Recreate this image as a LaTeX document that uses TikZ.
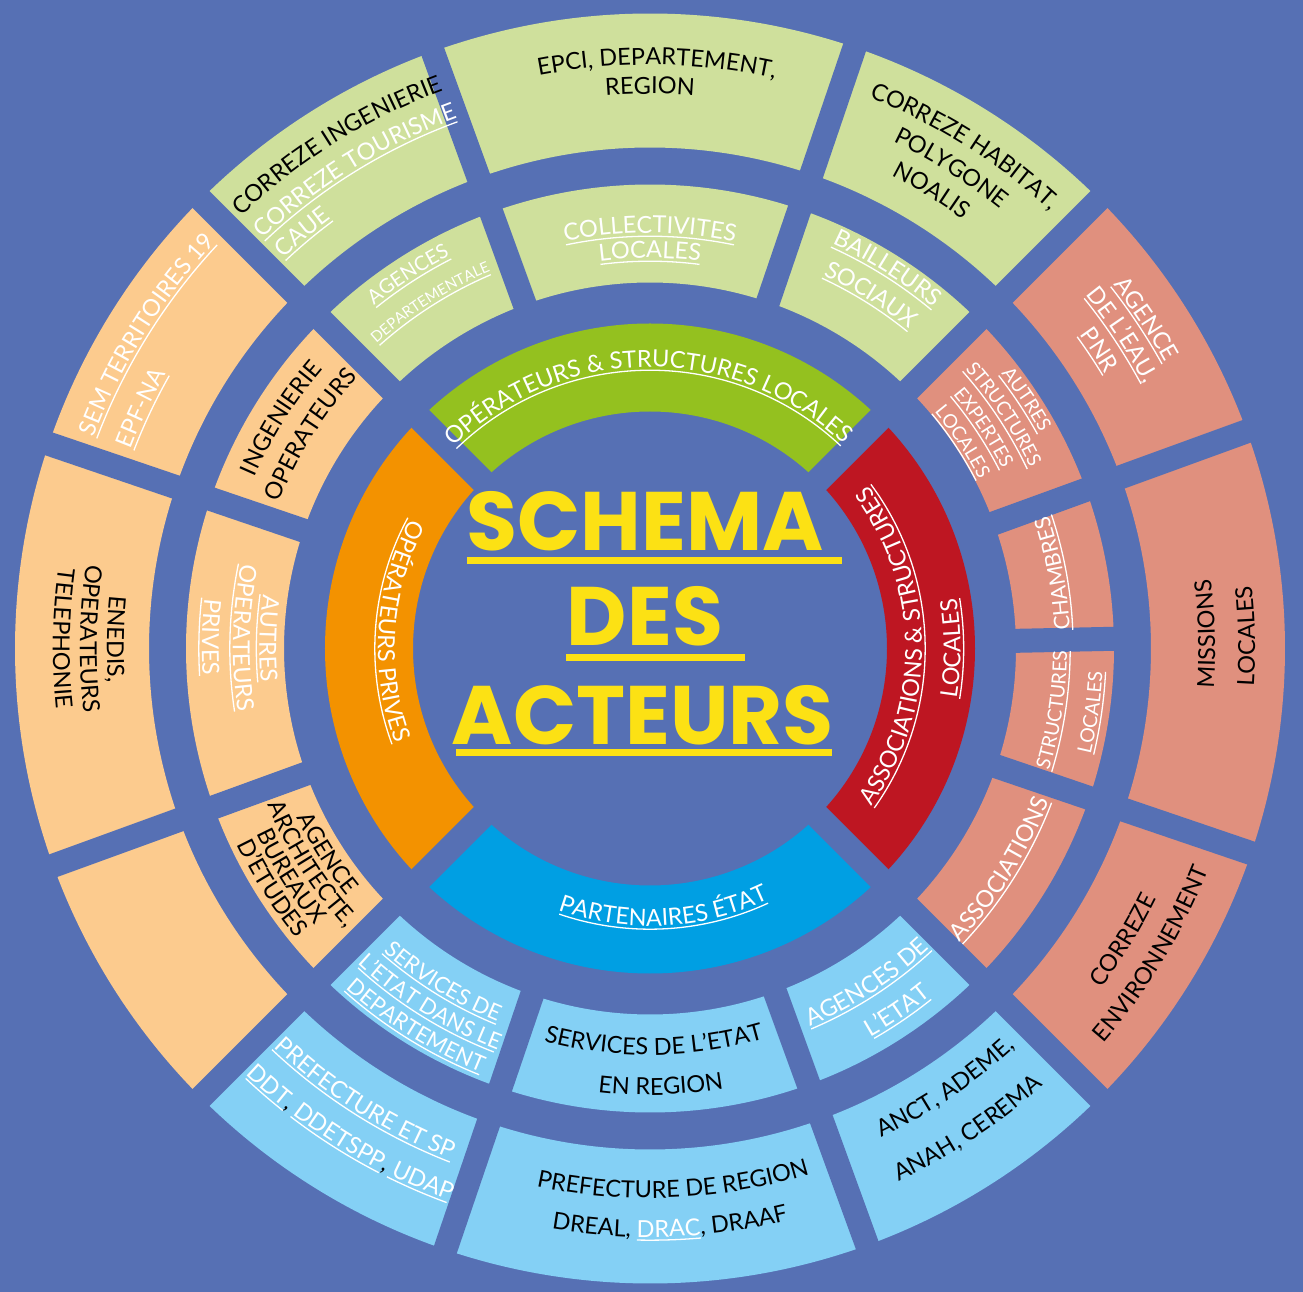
\documentclass[tikz,border=0pt]{standalone}
\usepackage{fontspec}
\usetikzlibrary{decorations.text}
\newfontfamily\labf{Lato}
\newfontfamily\titf{Poppins}
\definecolor{bgc}{HTML}{5670B4}
\definecolor{lgreen}{HTML}{CFE09C}
\definecolor{peach}{HTML}{FCCB8E}
\definecolor{salmon}{HTML}{E0907E}
\definecolor{lblue}{HTML}{84D0F5}
\definecolor{igreen}{HTML}{94C11F}
\definecolor{iorange}{HTML}{F39200}
\definecolor{ired}{HTML}{BE1622}
\definecolor{iblue}{HTML}{009FE3}
\definecolor{tyellow}{HTML}{FCE114}
\newcommand\Wa{\labf\fontsize{23.5}{23.5}\selectfont\color{white}}
\newcommand\Ba{\labf\fontsize{23.5}{23.5}\selectfont\color{black}}
\newcommand\Wb{\labf\fontsize{20}{20}\selectfont\color{white}}
\newcommand\Wc{\labf\fontsize{15}{15}\selectfont\color{white}}
\newcommand\Wd{\labf\fontsize{19}{19}\selectfont\color{white}}
\newcommand\We{\labf\fontsize{22}{22}\selectfont\color{white}}
\newcommand\Wf{\labf\fontsize{19.5}{19.5}\selectfont\color{white}}
\newcommand\Wg{\labf\fontsize{21.5}{21.5}\selectfont\color{white}}
\newdimen\Lw \newdimen\La \newdimen\Lb
\newsavebox\measbox
\newcommand\measure[2]{\pgfinterruptpicture\global\setbox\measbox=\hbox{#2}\endpgfinterruptpicture#1=\wd\measbox}
\def\Rpi{57.29578}
\newcommand\sect[5]{\fill[#1] (#2:#4) arc[start angle=#2,end angle=#3,radius=#4] -- (#3:#5) arc[start angle=#3,end angle=#2,radius=#5] -- cycle;}
\newcommand\gap[4]{\draw[bgc,line width=#4] (#1:#2-4) -- (#1:#3+4);}
\newcommand\ctext[5]{%
  \pgfmathsetmacro\Sa{#2+80*(#3)}%
  \pgfmathsetmacro\Ea{#2-80*(#3)}%
  \path[decorate,decoration={text along path,text align=center,text={|#4|#5}}] (\Sa:#1) arc[start angle=\Sa,end angle=\Ea,radius=#1];}
\newcommand\cul[5]{%
  \measure\Lw{#4#5}%
  \pgfmathsetmacro\Ha{0.5*\the\Lw/(#1)*\Rpi}%
  \pgfmathsetmacro\Ur{#1-3.2*(#3)}%
  \pgfmathsetmacro\Aa{#2-\Ha}\pgfmathsetmacro\Ab{#2+\Ha}%
  \draw[ulsty] (\Aa:\Ur) arc[start angle=\Aa,end angle=\Ab,radius=\Ur];}
\newcommand\clab[6]{\ctext{#1}{#2}{#3}{#4}{#5}\ifnum#6=1 \cul{#1}{#2}{#3}{#4}{#5}\fi}
\newcommand\ltext[5]{%
  \pgfmathsetmacro\Ea{#2-160*(#3)}%
  \path[decorate,decoration={text along path,text align=left,text={|#4|#5}}] (#2:#1) arc[start angle=#2,end angle=\Ea,radius=#1];}
\newcommand\lul[5]{%
  \measure\Lw{#4#5}%
  \pgfmathsetmacro\Ha{\the\Lw/(#1)*\Rpi}%
  \pgfmathsetmacro\Ur{#1-3.2*(#3)}%
  \pgfmathsetmacro\Ab{#2-(#3)*\Ha}%
  \draw[ulsty] (#2:\Ur) arc[start angle=#2,end angle=\Ab,radius=\Ur];}
\newcommand\pul[7]{%
  \measure\Lw{#4#5}\measure\La{#4#6}\measure\Lb{#4#6#7}%
  \pgfmathsetmacro\Ur{#1-3.2*(#3)}%
  \pgfmathsetmacro\Aa{#2-(#3)*(-0.5*\the\Lw+\the\La)/(#1)*\Rpi}%
  \pgfmathsetmacro\Ab{#2-(#3)*(-0.5*\the\Lw+\the\Lb)/(#1)*\Rpi}%
  \draw[ulsty] (\Aa:\Ur) arc[start angle=\Aa,end angle=\Ab,radius=\Ur];}
\tikzset{
  ulsty/.style={white,line width=1.3},
  titlesty/.style={font=\titf\bfseries\fontsize{83}{83}\selectfont,text=tyellow,inner sep=0pt,anchor=base},
  tline/.style={tyellow,line width=7}
}
\begin{document}
\begin{tikzpicture}[x=1pt,y=1pt]
\useasboundingbox (-650,-643.5) rectangle (653,648.5);
\fill[bgc] (-650,-643.5) rectangle (653,648.5);
% ---------- ring 1 ----------
\sect{igreen}{45}{135}{237}{325}
\sect{iorange}{135}{225}{237}{325}
\sect{iblue}{225}{315}{237}{325}
\sect{ired}{-45}{45}{237}{325}
\foreach \a in {45,135,225,315} {\gap{\a}{237}{325}{25}}
% ---------- ring 2 ----------
\sect{salmon}{-18.8}{1.2}{366}{464}
\sect{salmon}{1.2}{20}{366}{464}
\sect{salmon}{20}{45}{366}{464}
\sect{lgreen}{45}{71.2}{366}{464}
\sect{lgreen}{71.2}{110}{366}{464}
\sect{lgreen}{110}{135}{366}{464}
\sect{peach}{135}{161.2}{366}{464}
\sect{peach}{161.2}{200}{366}{464}
\sect{peach}{200}{225}{366}{464}
\sect{lblue}{225}{251.2}{366}{464}
\sect{lblue}{251.2}{290}{366}{464}
\sect{lblue}{290}{315}{366}{464}
\sect{salmon}{315}{341.2}{366}{464}
\foreach \a in {-18.8,1.2,20,45,71.2,110,135,161.2,200,225,251.2,290,315} {\gap{\a}{366}{464}{24}}
% ---------- ring 3 ----------
\sect{salmon}{-18.8}{20}{501}{635}
\sect{salmon}{20}{45}{501}{635}
\sect{lgreen}{45}{71.2}{501}{635}
\sect{lgreen}{71.2}{110}{501}{635}
\sect{lgreen}{110}{135}{501}{635}
\sect{peach}{135}{161.2}{501}{635}
\sect{peach}{161.2}{200}{501}{635}
\sect{peach}{200}{225}{501}{635}
\sect{lblue}{225}{251.2}{501}{635}
\sect{lblue}{251.2}{290}{501}{635}
\sect{lblue}{290}{315}{501}{635}
\sect{salmon}{315}{341.2}{501}{635}
\foreach \a in {-18.8,20,45,71.2,110,135,161.2,200,225,251.2,290,315} {\gap{\a}{501}{635}{24}}
% ---------- title ----------
\node[titlesty] (t1) at (-5,97.5) {SCHEMA};
\node[titlesty] (t2) at (-5,2.5) {DES};
\node[titlesty] (t3) at (-7,-96) {ACTEURS};
\draw[tline] (-183,88) -- (192,88);
\draw[tline] (-84,-8.9) -- (95,-8.9);
\draw[tline] (-194,-104.5) -- (182,-104.5);
% ---------- ring 1 labels ----------
\clab{281.5}{90.4}{1}{\Wa}{OPÉRATEURS {\&} STRUCTURES LOCALES}{1}
\clab{272}{176}{-1}{\Wa}{OPÉRATEURS PRIVES}{1}
\clab{272}{0.6}{-1}{\Wa}{ASSOCIATIONS {\&} STRUCTURES}{1}
\clab{310.5}{0}{-1}{\Wa}{LOCALES}{1}
\clab{277.5}{273}{-1}{\Wa}{PARTENAIRES ÉTAT}{1}
% ---------- ring 2 labels ----------
\clab{415.5}{90}{1}{\Wa}{COLLECTIVITES}{1}
\clab{390.5}{90}{1}{\Wa}{LOCALES}{1}
\clab{440.5}{122.9}{1}{\Wb}{AGENCES}{1}
\clab{409.5}{122.4}{1}{\Wc}{DEPARTEMENTALE}{1}
\clab{430.5}{148}{1}{\Ba}{INGENIERIE}{0}
\clab{398.5}{147.8}{1}{\Ba}{OPERATEURS}{0}
\clab{390.5}{178.5}{-1}{\Wa}{AUTRES}{1}
\clab{417}{178.5}{-1}{\Wa}{OPERATEURS}{1}
\clab{448}{178.5}{-1}{\Wa}{PRIVES}{1}
\clab{391}{212.4}{-1}{\Ba}{AGENCE}{0}
\clab{413}{212.4}{-1}{\Ba}{ARCHITECTE,}{0}
\clab{435}{212.4}{-1}{\Ba}{BUREAUX}{0}
\clab{457}{212.4}{-1}{\Ba}{D’ETUDES}{0}
\clab{403}{238.2}{-1}{\We}{SERVICES DE}{1}
\clab{429.5}{238.2}{-1}{\We}{L’ETAT DANS LE}{1}
\clab{456}{238.2}{-1}{\We}{DEPARTEMENT}{1}
\clab{406.5}{270.6}{-1}{\Ba}{SERVICES DE L’ETAT}{0}
\clab{446.5}{271.4}{-1}{\Ba}{EN REGION}{0}
\clab{410}{303}{-1}{\Wa}{AGENCES DE}{1}
\clab{446.5}{304.3}{-1}{\Wa}{L’ETAT}{1}
\clab{427}{327.8}{-1}{\Wa}{ASSOCIATIONS}{1}
\clab{417}{351.3}{-1}{\Wf}{STRUCTURES}{1}
\clab{453}{351.8}{-1}{\Wf}{LOCALES}{1}
\clab{420}{10.5}{-1}{\Wg}{CHAMBRES}{1}
\clab{446}{33.5}{1}{\Wd}{AUTRES}{1}
\clab{421}{33.5}{1}{\Wd}{STRUCTURES}{1}
\clab{395.5}{33.5}{1}{\Wd}{EXPERTES}{1}
\clab{370}{33.5}{1}{\Wd}{LOCALES}{1}
\clab{443.5}{58}{1}{\Wa}{BAILLEURS}{1}
\clab{411.5}{58}{1}{\Wa}{SOCIAUX}{1}
% ---------- ring 3 labels ----------
\clab{583.5}{89.3}{1}{\Ba}{EPCI, DEPARTEMENT,}{0}
\clab{554.5}{90}{1}{\Ba}{REGION}{0}
\clab{593}{57.9}{1}{\Ba}{CORREZE HABITAT,}{0}
\clab{562}{57.9}{1}{\Ba}{POLYGONE}{0}
\clab{531}{58.4}{1}{\Ba}{NOALIS}{0}
\ltext{595}{133.4}{1}{\Ba}{CORREZE INGENIERIE}
\ltext{564}{133.4}{1}{\Wa}{CORREZE TOURISME}
\lul{564}{133.4}{1}{\Wa}{CORREZE TOURISME}
\ltext{535.5}{133.2}{1}{\Wa}{CAUE}
\lul{535.5}{133.2}{1}{\Wa}{CAUE}
\ltext{595}{159.2}{1}{\Wa}{SEM TERRITOIRES 19}
\lul{595}{159.2}{1}{\Wa}{SEM TERRITOIRES 19}
\ltext{556}{159}{1}{\Wa}{EPF-NA}
\lul{556}{159}{1}{\Wa}{EPF-NA}
\clab{543}{179}{-1}{\Ba}{ENEDIS,}{0}
\clab{570}{179}{-1}{\Ba}{OPERATEURS}{0}
\clab{597}{179}{-1}{\Ba}{TELEPHONIE}{0}
\clab{548}{237.7}{-1}{\Wa}{PREFECTURE ET SP}{1}
\ctext{587}{238.3}{-1}{\Wa}{DDT|\Ba|, |\Wa|DDETSPP|\Ba|, |\Wa|UDAP}
\pul{587}{238.3}{-1}{\Wa}{DDT, DDETSPP, UDAP}{}{DDT}
\pul{587}{238.3}{-1}{\Wa}{DDT, DDETSPP, UDAP}{DDT, }{DDETSPP}
\pul{587}{238.3}{-1}{\Wa}{DDT, DDETSPP, UDAP}{DDT, DDETSPP, }{UDAP}
\clab{549.5}{272.5}{-1}{\Ba}{PREFECTURE DE REGION}{0}
\ctext{588.5}{272}{-1}{\Ba}{DREAL, |\Wa|DRAC|\Ba|, DRAAF}
\pul{588.5}{272}{-1}{\Wa}{DREAL, DRAC, DRAAF}{DREAL, }{DRAC}
\clab{541}{303.9}{-1}{\Ba}{ANCT, ADEME,}{0}
\clab{588}{303.5}{-1}{\Ba}{ANAH, CEREMA}{0}
\clab{565}{328.4}{-1}{\Ba}{CORREZE}{0}
\clab{601}{328.7}{-1}{\Ba}{ENVIRONNEMENT}{0}
\clab{565}{1.5}{-1}{\Ba}{MISSIONS}{0}
\clab{605}{1.2}{-1}{\Ba}{LOCALES}{0}
\clab{589}{33.6}{1}{\Wa}{AGENCE}{1}
\clab{561}{33.6}{1}{\Wa}{DE L’EAU,}{1}
\clab{532}{33.6}{1}{\Wa}{PNR}{1}
\end{tikzpicture}
\end{document}
